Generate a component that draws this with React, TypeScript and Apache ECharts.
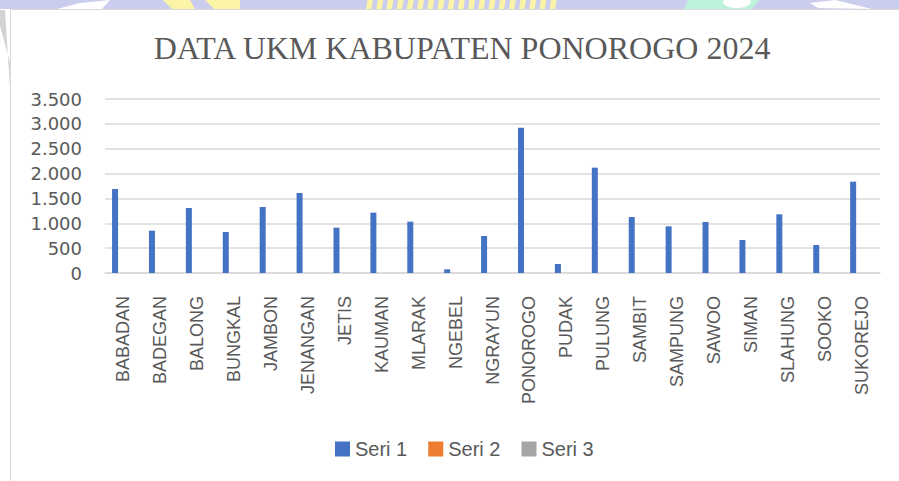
import React, { useEffect, useRef } from "react";
import * as echarts from "echarts";

const TITLE = "DATA UKM KABUPATEN PONOROGO 2024";
const categories = [
  "BABADAN", "BADEGAN", "BALONG", "BUNGKAL", "JAMBON", "JENANGAN", "JETIS",
  "KAUMAN", "MLARAK", "NGEBEL", "NGRAYUN", "PONOROGO", "PUDAK", "PULUNG",
  "SAMBIT", "SAMPUNG", "SAWOO", "SIMAN", "SLAHUNG", "SOOKO", "SUKOREJO",
];
const seriesNames = ["Seri 1", "Seri 2", "Seri 3"];
const seri1 = [
  1690, 852, 1307, 825, 1328, 1609, 912, 1214, 1033, 74, 744, 2923, 181, 2119,
  1126, 939, 1026, 664, 1180, 563, 1837,
];
const seri2: (number | null)[] = [
  null, null, null, null, null, null, null, null, null, null, null,
  null, null, null, null, null, null, null, null, null, null,
];
const seri3: (number | null)[] = [
  null, null, null, null, null, null, null, null, null, null, null,
  null, null, null, null, null, null, null, null, null, null,
];
const Y_MIN = 0;
const Y_MAX = 3500;
const Y_STEP = 500;

const fmt = (v: number) => {
  if (v >= 1000) {
    const t = Math.floor(v / 1000);
    const r = String(v % 1000).padStart(3, "0");
    return t + "." + r;
  }
  return String(v);
};

export default function App() {
  const ref = useRef<HTMLDivElement>(null);
  useEffect(() => {
    if (!ref.current) return;
    const chart = echarts.init(ref.current, null, { renderer: "svg" });
    const gray = "#595959";
    const lav = "#cbcdee";
    const yel = "#fbf3a6";
    const stripes: any[] = [];
    for (let i = 0; i < 19; i++) {
      const x0 = 366 + i * 10.2;
      stripes.push({
        type: "polygon",
        z: -10,
        silent: true,
        shape: { points: [[x0, 9], [x0 + 1.5, 0], [x0 + 7, 0], [x0 + 5.5, 9]] },
        style: { fill: yel },
      });
    }
    chart.setOption({
      animation: false,
      backgroundColor: "#ffffff",
      title: {
        text: TITLE,
        left: 457,
        top: 27,
        textAlign: "center",
        textStyle: {
          fontFamily: "'Liberation Serif', 'Times New Roman', serif",
          fontSize: 32,
          fontWeight: "normal",
          color: gray,
        },
      },
      legend: {
        data: seriesNames,
        left: 330,
        top: 434,
        icon: "rect",
        itemWidth: 15,
        itemHeight: 15,
        itemGap: 21,
        textStyle: {
          fontFamily: "'Liberation Sans', Arial, sans-serif",
          fontSize: 20,
          color: gray,
        },
      },
      grid: { left: 105, right: 19, top: 99, bottom: 208, containLabel: false },
      xAxis: {
        type: "category",
        data: categories,
        axisLine: { lineStyle: { color: "#d9d9d9", width: 1.5 } },
        axisTick: { show: false },
        axisLabel: {
          rotate: 90,
          interval: 0,
          margin: 23,
          fontFamily: "'Liberation Sans', Arial, sans-serif",
          fontSize: 18,
          color: gray,
        },
      },
      yAxis: {
        type: "value",
        min: Y_MIN,
        max: Y_MAX,
        interval: Y_STEP,
        axisLine: { show: false },
        axisTick: { show: false },
        splitLine: { lineStyle: { color: "#d9d9d9", width: 1.5 } },
        axisLabel: {
          margin: 23,
          formatter: (v: number) => fmt(v),
          fontFamily: "'DejaVu Sans', sans-serif",
          fontSize: 18,
          color: gray,
        },
      },
      series: [
        { name: seriesNames[0], type: "bar", data: seri1, barWidth: 6, barGap: "40%", itemStyle: { color: "#4472c4" } },
        { name: seriesNames[1], type: "bar", data: seri2, barWidth: 6, barGap: "40%", itemStyle: { color: "#ed7d31" } },
        { name: seriesNames[2], type: "bar", data: seri3, barWidth: 6, barGap: "40%", itemStyle: { color: "#a5a5a5" } },
      ],
      graphic: [
        { type: "rect", z: -20, silent: true, shape: { x: 0, y: 0, width: 899, height: 9 }, style: { fill: lav } },
        { type: "polygon", z: -10, silent: true, shape: { points: [[57, 9], [80, 3], [110, 0], [102, 9]] }, style: { fill: "#ffffff" } },
        { type: "polygon", z: -10, silent: true, shape: { points: [[163, 0], [190, 0], [195, 9], [172, 9]] }, style: { fill: yel } },
        { type: "polygon", z: -10, silent: true, shape: { points: [[205, 0], [240, 0], [240, 9], [214, 9]] }, style: { fill: yel } },
        ...stripes,
        { type: "polygon", z: -10, silent: true, shape: { points: [[684, 9], [688, 0], [760, 0], [752, 9]] }, style: { fill: "#bdf3da" } },
        { type: "ellipse", z: -9, silent: true, shape: { cx: 737, cy: 2, rx: 14, ry: 6 }, style: { fill: "#ffffff" } },
        { type: "polygon", z: -10, silent: true, shape: { points: [[810, 3], [835, 0], [872, 9], [818, 8]] }, style: { fill: "#ffffff" } },
        { type: "polygon", z: -10, silent: true, shape: { points: [[0, 10], [5, 10], [10, 88], [10, 62], [0, 26]] }, style: { fill: "#d3d3d3" } },
        { type: "line", z: -5, silent: true, shape: { x1: 10.5, y1: 9.5, x2: 10.5, y2: 481 }, style: { stroke: "#d9d9d9", lineWidth: 1 } },
        { type: "line", z: -5, silent: true, shape: { x1: 10, y1: 9.5, x2: 899, y2: 9.5 }, style: { stroke: "#d9d9d9", lineWidth: 1 } },
      ],
    });
    return () => chart.dispose();
  }, []);
  return (
    <div
      ref={ref}
      style={{ position: "fixed", left: 0, top: 0, width: 899, height: 481 }}
    />
  );
}
